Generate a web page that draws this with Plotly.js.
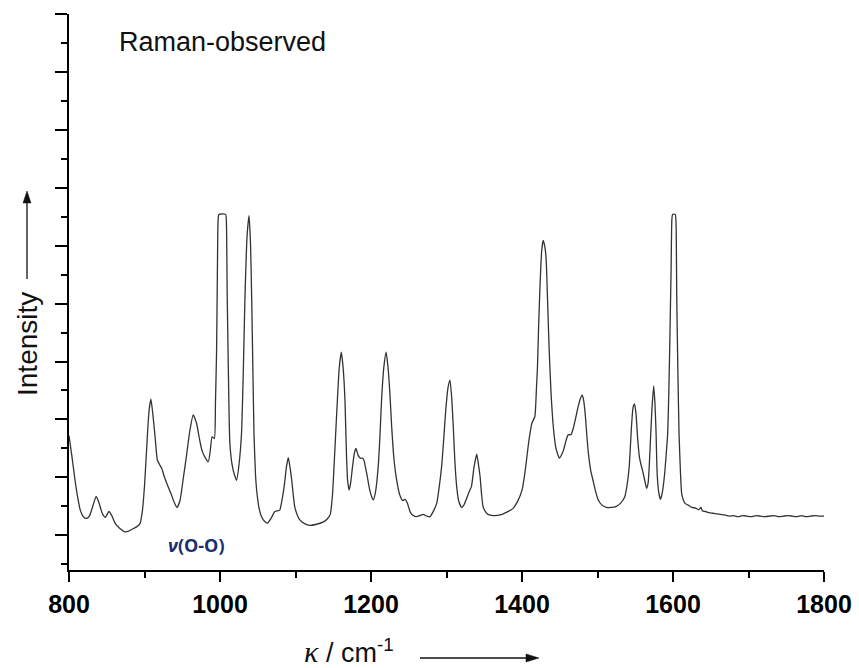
<!DOCTYPE html>
<html>
<head>
<meta charset="utf-8">
<script src="https://cdn.plot.ly/plotly-3.0.1.min.js"></script>
<style>html,body{margin:0;padding:0;background:#fff;}#chart{width:859px;height:668px;}</style>
</head>
<body>
<div id="chart"></div>
<script>
// Raman shift (cm^-1)
const wavenumber = [
800,804,808,812,815,819,823,827,831,836,840,844,848,853,857,861,867,874,879,883,889,894,897,900,902,904,906,908.5,911,914,917,920,923,926,930,935,939,943,947,951,956,960,964.5,969,973,976,980,984.5,987,989.5,992.5,994,995.5,996.5,997.5,998.5,1007.5,1008.5,1009.5,1011,1013,1016,1019,1022,1025,1028.5,1031,1033,1036,1038.5,1040.5,1042,1043.5,1045,1047,1049,1052,1055,1059,1063,1068,1072,1075,1079,1082,1085,1088,1090.5,1093,1095,1097,1099,1103,1106,1112,1119,1128,1137,1142,1146,1149,1151,1153,1155.5,1158,1160.7,1163,1165.5,1167.5,1169,1171,1173,1175.5,1178,1180,1183,1186,1189,1191,1193,1195,1198,1201,1203,1206,1209.5,1212,1214,1217,1220,1222.5,1225,1227.5,1230.5,1234,1238,1242,1245,1248,1252,1256,1260,1265,1269,1274,1278,1282,1287,1290,1293.5,1296,1299,1302,1304.6,1307,1309,1311,1313.5,1316,1320,1323,1326.5,1330,1333,1336.5,1340,1342,1344.5,1346.5,1348.5,1352,1355,1362,1371,1380,1388,1394,1400,1403,1406,1409,1413,1417,1419,1420.5,1422,1424,1426,1428,1430,1432,1434,1436,1438.5,1441.5,1445,1449.5,1452,1455,1458,1461,1465,1468,1471,1474,1477,1480,1482,1484,1486,1488,1491,1494,1497,1501,1506,1512,1518,1525,1531,1536,1539,1542,1545,1547,1549,1551,1553,1555.5,1558,1560,1563,1565,1567,1568.5,1570,1572,1574.4,1576,1577.5,1579,1581,1583.5,1586,1589,1591,1593,1594.5,1596,1597.5,1598.5,1599.5,1603,1604,1605,1606.5,1608,1610,1611.5,1614,1616,1620,1625,1630,1634,1637,1639,1643,1648,1653,1658,1663,1668,1675,1680,1686,1692,1698,1704,1710,1716,1722,1728,1734,1740,1746,1752,1758,1764,1770,1776,1782,1788,1794,1800
];
// Intensity (arbitrary units)
const intensity = [
1.72,1.35,0.95,0.62,0.43,0.32,0.29,0.33,0.48,0.67,0.55,0.38,0.31,0.41,0.33,0.21,0.12,0.06,0.07,0.10,0.14,0.20,0.40,0.85,1.30,1.76,2.15,2.35,2.10,1.70,1.30,1.22,1.15,1.02,0.88,0.72,0.58,0.48,0.60,0.95,1.41,1.80,2.08,1.93,1.65,1.47,1.35,1.27,1.45,1.70,1.67,2.3,3.2,4.5,5.45,5.54,5.54,5.40,4.2,2.91,1.60,1.22,1.05,0.95,1.20,1.76,2.9,4.07,5.2,5.52,5.0,4.07,2.9,1.76,1.05,0.72,0.45,0.32,0.24,0.21,0.30,0.40,0.42,0.43,0.60,0.84,1.18,1.34,1.15,0.95,0.70,0.49,0.33,0.26,0.20,0.17,0.19,0.23,0.28,0.36,0.70,1.18,1.70,2.34,2.90,3.16,2.90,2.34,1.40,0.95,0.78,0.90,1.18,1.42,1.50,1.38,1.33,1.33,1.28,1.15,1.02,0.80,0.66,0.61,0.75,1.18,1.75,2.34,2.90,3.16,2.90,2.45,1.85,1.30,0.95,0.70,0.60,0.62,0.56,0.40,0.34,0.32,0.34,0.36,0.33,0.32,0.40,0.55,0.80,1.18,1.60,2.16,2.55,2.68,2.35,1.87,1.30,0.84,0.60,0.48,0.52,0.63,0.75,0.84,1.18,1.40,1.25,1.01,0.70,0.49,0.40,0.36,0.34,0.35,0.40,0.46,0.58,0.78,1.0,1.30,1.62,1.93,2.05,2.5,2.91,3.6,4.35,4.90,5.09,5.00,4.76,4.0,3.20,2.45,1.87,1.50,1.33,1.38,1.47,1.62,1.73,1.74,1.85,2.02,2.20,2.35,2.42,2.30,2.05,1.70,1.41,1.12,0.95,0.78,0.61,0.52,0.48,0.48,0.50,0.56,0.66,0.85,1.18,1.87,2.20,2.27,2.10,1.70,1.35,1.20,1.10,0.92,0.81,0.90,1.18,1.60,2.15,2.58,2.30,1.80,1.07,0.75,0.62,0.75,1.07,1.40,1.76,2.5,3.49,4.6,5.45,5.54,5.54,5.40,4.07,2.8,1.76,1.05,0.72,0.60,0.55,0.52,0.48,0.47,0.44,0.48,0.42,0.41,0.39,0.38,0.37,0.36,0.35,0.33,0.34,0.32,0.34,0.33,0.32,0.34,0.33,0.32,0.33,0.34,0.32,0.33,0.34,0.33,0.32,0.34,0.32,0.33,0.34,0.33,0.33
];
const xTickVals = [800, 1000, 1200, 1400, 1600, 1800];
const xTickText = ['800', '1000', '1200', '1400', '1600', '1800'];

// plot-area pixel geometry helpers (for decorations placed in paper coords)
const L = 69, T = 14, W = 755, H = 556;
const px = x => (x - L) / W;
const py = y => (T + H - y) / H;

const trace = {
  x: wavenumber, y: intensity, type: 'scatter', mode: 'lines',
  line: {color: '#333333', width: 1.3, shape: 'spline', smoothing: 0.5},
  hoverinfo: 'skip'
};

function P(x, y) { return px(x).toFixed(5) + ',' + py(y).toFixed(5); }

const shapes = [
  // vertical arrow beside "Intensity"
  {type: 'line', xref: 'paper', yref: 'paper', x0: px(27), x1: px(27), y0: py(279), y1: py(200),
   line: {color: '#111', width: 1.3}},
  {type: 'path', xref: 'paper', yref: 'paper',
   path: 'M' + P(27, 191) + ' L' + P(23, 203) + ' L' + P(31, 203) + ' Z',
   fillcolor: '#111', line: {color: '#111', width: 0.5}},
  // horizontal arrow after x title
  {type: 'line', xref: 'paper', yref: 'paper', x0: px(420), x1: px(528), y0: py(658), y1: py(658),
   line: {color: '#111', width: 1.3}},
  {type: 'path', xref: 'paper', yref: 'paper',
   path: 'M' + P(539, 658) + ' L' + P(526, 654) + ' L' + P(526, 662) + ' Z',
   fillcolor: '#111', line: {color: '#111', width: 0.5}}
];

const layout = {
  width: 859, height: 668,
  margin: {l: L, r: 859 - L - W, t: T, b: 668 - T - H, pad: 0},
  paper_bgcolor: '#ffffff', plot_bgcolor: '#ffffff',
  showlegend: false,
  xaxis: {
    range: [800, 1800], showgrid: false, zeroline: false,
    showline: true, linecolor: '#000', linewidth: 2,
    tickmode: 'array', tickvals: xTickVals, ticktext: xTickText,
    ticks: 'outside', ticklen: 10, tickwidth: 2, tickcolor: '#000',
    minor: {dtick: 100, tick0: 800, ticks: 'outside', ticklen: 6, tickwidth: 2, tickcolor: '#000', showgrid: false},
    tickfont: {family: 'Liberation Sans, Arial, sans-serif', size: 25, color: '#000', weight: 'bold'},
    ticklabelstandoff: 1
  },
  yaxis: {
    range: [-0.6, 9], showgrid: false, zeroline: false,
    showline: true, linecolor: '#000', linewidth: 2,
    tick0: 0, dtick: 1, ticks: 'outside', ticklen: 12, tickwidth: 2, tickcolor: '#000',
    minor: {dtick: 0.5, tick0: 0, ticks: 'outside', ticklen: 6, tickwidth: 2, tickcolor: '#000', showgrid: false},
    showticklabels: false
  },
  shapes: shapes,
  annotations: [
    {xref: 'paper', yref: 'paper', x: px(117), y: py(42), xanchor: 'left', yanchor: 'middle',
     text: 'Raman-observed', showarrow: false,
     font: {family: 'Liberation Sans, Arial, sans-serif', size: 27, color: '#111'}},
    {xref: 'paper', yref: 'paper', x: px(27), y: py(344), xanchor: 'center', yanchor: 'middle',
     text: 'Intensity', textangle: -90, showarrow: false,
     font: {family: 'Liberation Sans, Arial, sans-serif', size: 28, color: '#111'}},
    {xref: 'paper', yref: 'paper', x: px(349), y: py(651), xanchor: 'center', yanchor: 'middle',
     text: '<span style="font-family:Liberation Serif, serif;font-size:30px"><i>κ</i></span> / cm<sup>-1</sup>', showarrow: false,
     font: {family: 'Liberation Sans, Arial, sans-serif', size: 27, color: '#111'}},
    {xref: 'paper', yref: 'paper', x: px(166), y: py(545), xanchor: 'left', yanchor: 'middle',
     text: '<b><i>ν</i>(O-O)</b>', showarrow: false,
     font: {family: 'Open Sans, Noto Sans, sans-serif', size: 18, color: '#1b2f6e'}}
  ]
};

Plotly.newPlot('chart', [trace], layout, {displayModeBar: false, staticPlot: true});
</script>
</body>
</html>
